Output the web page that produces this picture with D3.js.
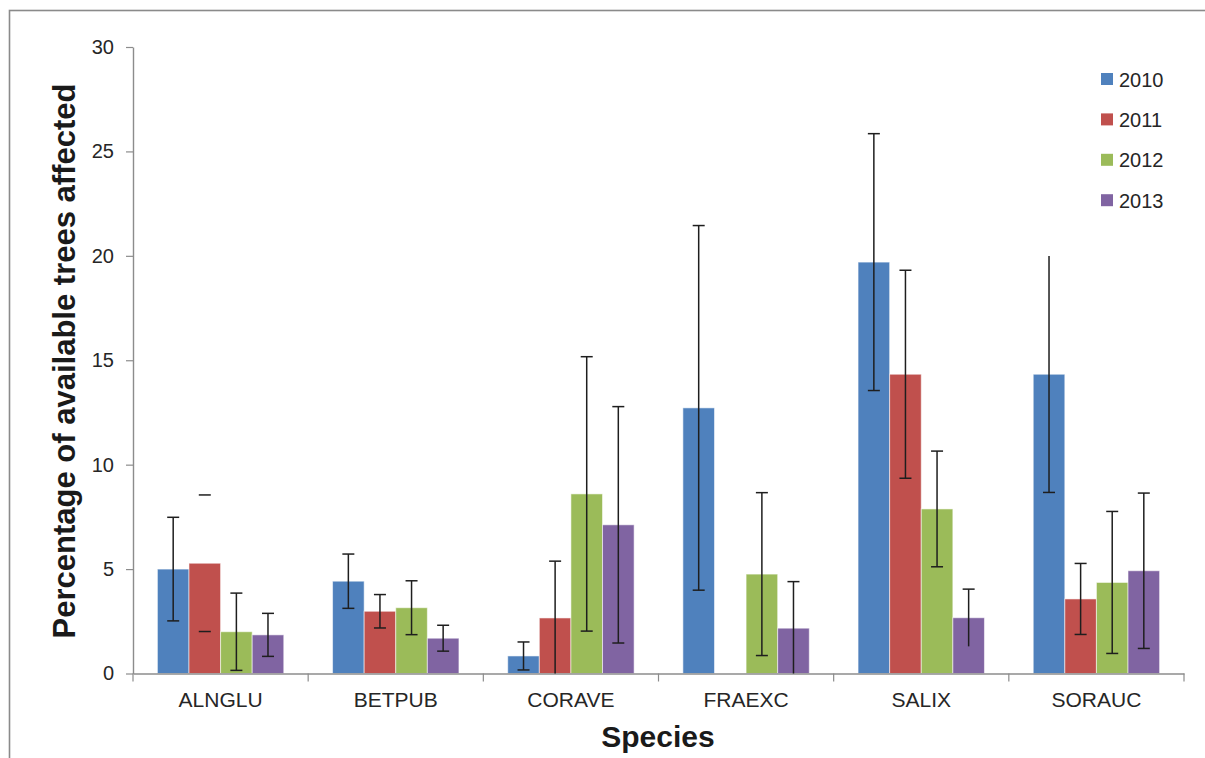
<!DOCTYPE html>
<html>
<head>
<meta charset="utf-8">
<script src="https://cdn.jsdelivr.net/npm/d3@7"></script>
<style>
  html, body { margin: 0; padding: 0; background: #fff; }
  svg { display: block; }
</style>
</head>
<body>
<svg id="chart" width="1205" height="758"></svg>
<script>
// Species sampled and survey years
const species = ["ALNGLU", "BETPUB", "CORAVE", "FRAEXC", "SALIX", "SORAUC"];
const years = ["2010", "2011", "2012", "2013"];

// Mean percentage of available trees affected, one array per year (in species order)
const pct2010 = [5.0, 4.42, 0.84, 12.72, 19.7, 14.33];
const pct2011 = [5.28, 2.98, 2.66, 0, 14.33, 3.57];
const pct2012 = [2.0, 3.15, 8.6, 4.76, 7.88, 4.36];
const pct2013 = [1.85, 1.69, 7.12, 2.17, 2.67, 4.92];

// Error (±) for each mean
const err2010 = [2.48, 1.3, 0.67, 8.73, 6.15, 5.66];
const err2011 = [3.27, 0.8, 2.72, 0, 4.98, 1.7];
const err2012 = [1.85, 1.29, 6.57, 3.9, 2.77, 3.4];
const err2013 = [1.03, 0.62, 5.66, 2.23, 1.37, 3.72];

// Error-bar parts that are not drawn: "species|year|part"
const hiddenParts = ["ALNGLU|2011|stem", "SALIX|2013|low", "SORAUC|2010|high"];

const yTicks = [0, 5, 10, 15, 20, 25, 30];
const colors = ["#4F81BD", "#C0504D", "#9BBB59", "#8064A2"];

const pctByYear = [pct2010, pct2011, pct2012, pct2013];
const errByYear = [err2010, err2011, err2012, err2013];

const svg = d3.select("#chart");
const FONT = "'Liberation Sans', Arial, sans-serif";

// Outer frame
svg.append("rect")
  .attr("x", 9.5).attr("y", 10.5)
  .attr("width", 1230).attr("height", 780)
  .attr("fill", "none").attr("stroke", "#8a8a8a").attr("stroke-width", 1.6);

const plotLeft = 133, plotRight = 1184, plotTop = 47, plotBottom = 673.5;

const x0 = d3.scaleBand().domain(species).range([plotLeft, plotRight]).padding(0);
const x1 = d3.scaleBand().domain(years).range([0, x0.bandwidth()])
  .paddingInner(0).paddingOuter(0.772);
const y = d3.scaleLinear().domain([0, 30]).range([plotBottom, plotTop]);
const color = d3.scaleOrdinal().domain(years).range(colors);

// Y axis
const yAxis = svg.append("g")
  .attr("transform", `translate(${plotLeft},0)`)
  .call(d3.axisLeft(y).tickValues(yTicks).tickSize(7).tickPadding(12).tickSizeOuter(0));
yAxis.select(".domain").attr("stroke", "#8c8c8c").attr("stroke-width", 1.4);
yAxis.selectAll(".tick line").attr("stroke", "#8c8c8c").attr("stroke-width", 1.2);
yAxis.selectAll(".tick text")
  .attr("font-family", FONT).attr("font-size", 20).attr("fill", "#262626");

// Bars
const rows = [];
species.forEach((s, i) => {
  years.forEach((yr, j) => {
    rows.push({ species: s, year: yr, value: pctByYear[j][i], err: errByYear[j][i] });
  });
});

const groups = svg.append("g").selectAll("g")
  .data(species).join("g")
  .attr("transform", d => `translate(${x0(d)},0)`);

groups.selectAll("rect")
  .data(s => rows.filter(r => r.species === s))
  .join("rect")
  .attr("x", d => x1(d.year))
  .attr("y", d => y(d.value))
  .attr("width", x1.bandwidth())
  .attr("height", d => y(0) - y(d.value))
  .attr("fill", d => color(d.year))
  .attr("stroke", "#ffffff").attr("stroke-opacity", 0.55).attr("stroke-width", 1);

// X axis: line, category boundary ticks, labels
const xAxis = svg.append("g")
  .attr("transform", `translate(0,${plotBottom})`)
  .call(d3.axisBottom(x0).tickSize(0).tickPadding(19));
xAxis.select(".domain").attr("stroke", "#8c8c8c").attr("stroke-width", 1.4);
xAxis.selectAll(".tick text")
  .attr("font-family", FONT).attr("font-size", 21).attr("fill", "#262626");

const bounds = species.map(s => x0(s)).concat([x0.range()[1]]);
svg.append("g").selectAll("line")
  .data(bounds).join("line")
  .attr("x1", d => d).attr("x2", d => d)
  .attr("y1", plotBottom).attr("y2", plotBottom + 8)
  .attr("stroke", "#8c8c8c").attr("stroke-width", 1.2);

// Error bars
const hidden = (d, part) => hiddenParts.includes(`${d.species}|${d.year}|${part}`);
const errG = svg.append("g")
  .attr("stroke", "#1e1e1e").attr("stroke-width", 1.5);
rows.filter(d => d.err > 0).forEach(d => {
  const cx = x0(d.species) + x1(d.year) + x1.bandwidth() / 2;
  const hi = d.value + d.err;
  const loRaw = d.value - d.err;
  const lo = Math.max(0, loRaw);
  if (!hidden(d, "stem")) {
    errG.append("line").attr("x1", cx).attr("x2", cx)
      .attr("y1", y(hi)).attr("y2", y(lo));
  }
  if (!hidden(d, "high")) {
    errG.append("line").attr("x1", cx - 6).attr("x2", cx + 6)
      .attr("y1", y(hi)).attr("y2", y(hi));
  }
  if (loRaw > 0 && !hidden(d, "low")) {
    errG.append("line").attr("x1", cx - 6).attr("x2", cx + 6)
      .attr("y1", y(lo)).attr("y2", y(lo));
  }
});

// Legend
const legend = svg.append("g").attr("transform", "translate(1101,73)");
const items = legend.selectAll("g").data(years).join("g")
  .attr("transform", (d, i) => `translate(0,${i * 40.4})`);
items.append("rect").attr("width", 12).attr("height", 12)
  .attr("fill", d => color(d));
items.append("text").attr("x", 18).attr("y", 13.5)
  .attr("font-family", FONT).attr("font-size", 20).attr("fill", "#262626")
  .text(d => d);

// Axis titles
svg.append("text")
  .attr("transform", `translate(75,361) rotate(-90)`)
  .attr("text-anchor", "middle")
  .attr("font-family", FONT).attr("font-weight", "bold").attr("font-size", 31)
  .attr("fill", "#1a1a1a")
  .text("Percentage of available trees affected");

svg.append("text")
  .attr("x", 658).attr("y", 747)
  .attr("text-anchor", "middle")
  .attr("font-family", FONT).attr("font-weight", "bold").attr("font-size", 30)
  .attr("fill", "#1a1a1a")
  .text("Species");
</script>
</body>
</html>
